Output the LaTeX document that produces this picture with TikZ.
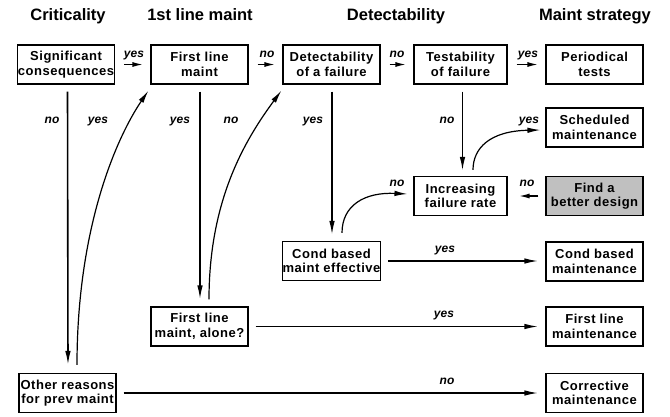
\documentclass[tikz,border=0pt]{standalone}
\usepackage{fontspec}
\setmainfont{Liberation Sans}
\newfontfamily\boxfont[LetterSpace=4]{Liberation Sans}
\usetikzlibrary{arrows.meta,calc}
\begin{document}
\begin{tikzpicture}[x=1pt,y=-1pt,
  box/.style={draw, line width=1.1pt, minimum width=97pt, minimum height=39pt, inner sep=0pt, align=center, font=\boxfont\fontsize{13}{14.5}\selectfont\bfseries},
  nbox/.style={box, minimum width=93pt},
  hdr/.style={font=\fontsize{16.5}{18}\selectfont\bfseries, anchor=base, inner sep=0pt},
  lbl/.style={font=\fontsize{12}{14}\selectfont\bfseries\itshape, anchor=base, inner sep=0pt},
  arr/.style={line width=1.6pt, -{Latex[length=14pt,width=5.5pt]}},
  carr/.style={line width=1.2pt, -{Latex[length=13pt,width=5.5pt]}},
  sarr/.style={line width=1.6pt, -{Latex[length=11pt,width=5pt]}, shorten <=9pt, shorten >=7pt}]
\useasboundingbox (0,0) rectangle (670,416);
% headers
\node[hdr] (h1) at (68,20) {Criticality};
\node[hdr] (h2) at (200,20) {1st line maint};
\node[hdr] (h3) at (396,20) {Detectability};
\node[hdr] (h4) at (595,20) {Maint strategy};
% boxes
\node[box] (sig) at (66,64.5) {Significant\\consequences};
\node[box] (flm) at (199.5,64.5) {First line\\maint};
\node[box] (det) at (331.5,64.5) {Detectability\\of a failure};
\node[nbox] (test) at (460.5,64.5) {Testability\\of failure};
\node[box] (per) at (594.5,64.5) {Periodical\\tests};
\node[box] (sched) at (594.5,127.5) {Scheduled\\maintenance};
\node[nbox] (incr) at (460.5,196) {Increasing\\failure rate};
\node[box, fill={rgb,255:red,192;green,192;blue,192}] (find) at (594.5,196) {Find a\\better design};
\node[box] (cbe) at (331.5,261) {Cond based\\maint effective};
\node[box] (cbm) at (594.5,261.5) {Cond based\\maintenance};
\node[box] (fla) at (199.5,326.5) {First line\\maint, alone?};
\node[box] (flmm) at (594.5,326.5) {First line\\maintenance};
\node[box] (oth) at (67.5,393) {Other reasons\\for prev maint};
\node[box] (corr) at (594.5,393) {Corrective\\maintenance};
% short top-row arrows
\draw[sarr] (sig.east) -- (flm.west);
\draw[sarr] (flm.east) -- (det.west);
\draw[sarr] (det.east) -- (test.west);
\draw[sarr] (test.east) -- (per.west);
% vertical arrows
\draw[arr, shorten <=7pt, shorten >=8pt] ([xshift=1.5pt]sig.south) -- ([xshift=0.5pt]oth.north);
\draw[arr, shorten <=7pt, shorten >=7pt] ([xshift=0.5pt]flm.south) -- ([xshift=0.5pt]fla.north);
\draw[arr, shorten <=7pt, shorten >=6pt] ([xshift=0.5pt]det.south) -- ([xshift=0.5pt]cbe.north);
\draw[arr, shorten <=7pt, shorten >=5pt] ([xshift=2pt]test.south) -- ([xshift=2pt]incr.north);
% curved arrows
\draw[carr] ($(oth.north)+(9.5,-8)$) .. controls (77,230) and (115,140) .. ($(flm.south west)+(-2,6)$);
\draw[carr] ($(fla.north)+(9.5,-7)$) .. controls (209,200) and (245,140) .. ($(det.south west)+(-1,6)$);
\draw[carr] ($(cbe.north)+(10.5,-8)$) .. controls (342,205) and (365,192) .. ($(incr.west)+(-6,-2)$);
\draw[carr] ($(incr.north)+(12.5,-6)$) .. controls (473,148) and (490,131) .. ($(sched.west)+(-5,2.5)$);
% leftward and long horizontal arrows
\draw[sarr, shorten <=7pt, shorten >=11pt] (find.west) -- (incr.east);
\draw[arr, shorten <=7pt, shorten >=7pt] (cbe.east) -- (cbe.east -| cbm.west);
\draw[arr, shorten <=7pt, shorten >=7pt] (fla.east) -- (flmm.west);
\draw[arr, shorten <=7pt, shorten >=7pt] (oth.east) -- (corr.west);
% labels
\node[lbl] (l1) at (134,57) {yes};
\node[lbl] (l2) at (267,57) {no};
\node[lbl] (l3) at (397,57) {no};
\node[lbl] (l4) at (528,57) {yes};
\node[lbl] (l5) at (52,123) {no};
\node[lbl] (l6) at (98,123) {yes};
\node[lbl] (l7) at (180,123) {yes};
\node[lbl] (l8) at (231,123) {no};
\node[lbl] (l9) at (313,123) {yes};
\node[lbl] (l10) at (447,123) {no};
\node[lbl] (l11) at (529,123) {yes};
\node[lbl] (l12) at (397,186) {no};
\node[lbl] (l13) at (527,186) {no};
\node[lbl] (l14) at (445,252) {yes};
\node[lbl] (l15) at (444,317) {yes};
\node[lbl] (l16) at (447,384) {no};
\end{tikzpicture}
\end{document}
